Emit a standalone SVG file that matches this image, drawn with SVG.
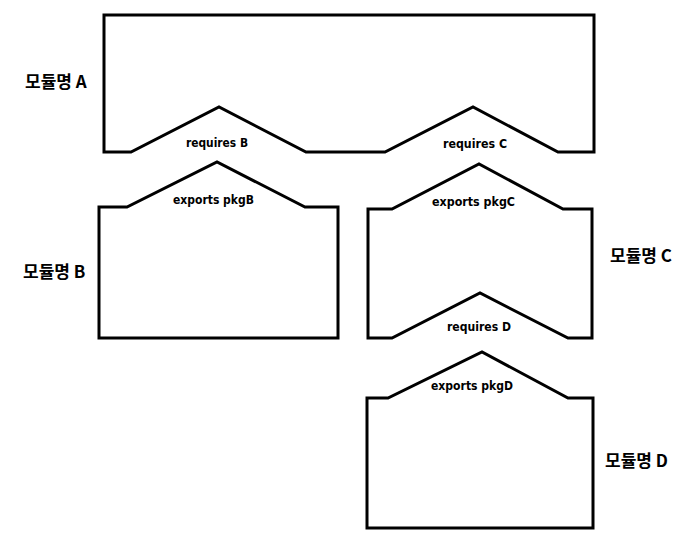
<svg xmlns="http://www.w3.org/2000/svg" width="698" height="548" viewBox="0 0 698 548">
<style>
.box{fill:#fff;stroke:#000;stroke-width:3;stroke-linejoin:miter}
.lbl{font-family:"DejaVu Sans","Liberation Sans",sans-serif;font-weight:bold;font-size:12px;fill:#000}
.name{font-family:"Noto Sans CJK KR","Noto Sans",sans-serif;font-weight:bold;font-size:17px;fill:#000}
</style>
<rect width="698" height="548" fill="#fff"/>
<g id="moduleA">
<path class="box" d="M104,15 H594 V152 H558 L473,107 L385,152 H306 L219,107 L131,152 H104 Z"/>
<text class="lbl" x="186" y="147" textLength="62" lengthAdjust="spacingAndGlyphs">requires B</text>
<text class="lbl" x="443" y="148" textLength="64" lengthAdjust="spacingAndGlyphs">requires C</text>
<text class="name" x="25" y="88">모듈명 A</text>
</g>
<g id="moduleB">
<path class="box" d="M99,207 H127 L217,162 L305,207 H338 V338 H99 Z"/>
<text class="lbl" x="173" y="204" textLength="81" lengthAdjust="spacingAndGlyphs">exports pkgB</text>
<text class="name" x="23" y="278">모듈명 B</text>
</g>
<g id="moduleC">
<path class="box" d="M368,209 H392 L479,164 L563,209 H592 V338 H568 L480,293 L392,338 H368 Z"/>
<text class="lbl" x="432" y="206" textLength="83" lengthAdjust="spacingAndGlyphs">exports pkgC</text>
<text class="lbl" x="447" y="331" textLength="64" lengthAdjust="spacingAndGlyphs">requires D</text>
<text class="name" x="610" y="262">모듈명 C</text>
</g>
<g id="moduleD">
<path class="box" d="M367,398 H388 L482,352 L568,398 H593 V528 H367 Z"/>
<text class="lbl" x="431" y="390" textLength="82" lengthAdjust="spacingAndGlyphs">exports pkgD</text>
<text class="name" x="605" y="467">모듈명 D</text>
</g>
<g id="connectors"></g>
</svg>
